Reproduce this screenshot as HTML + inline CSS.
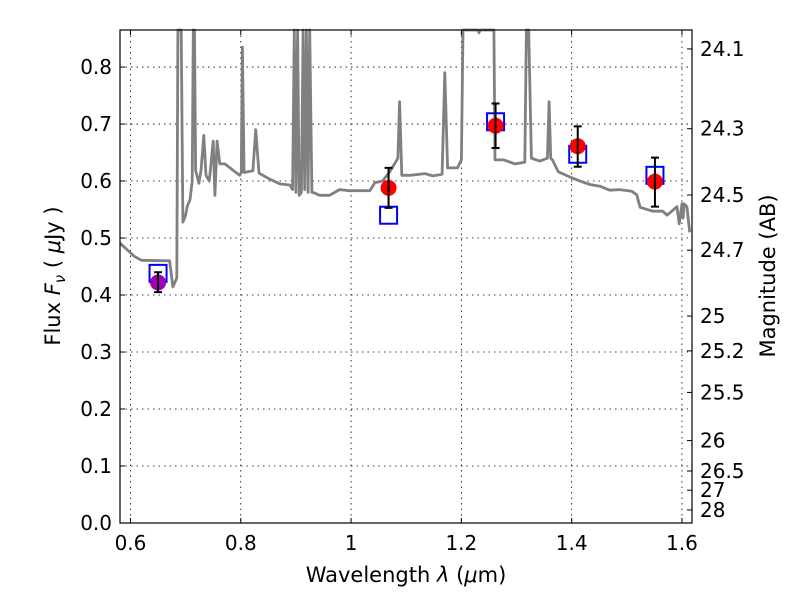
<!DOCTYPE html>
<html><head><meta charset="utf-8"><style>
body{margin:0;background:#fff}
svg text{font-family:"DejaVu Sans","Liberation Sans",sans-serif;fill:#000}
</style></head><body>
<svg id="chart" width="800" height="600" xmlns="http://www.w3.org/2000/svg">
<rect width="800" height="600" fill="#fff"/>
<g id="grid"></g>
<g id="spec"></g>
<g id="pts"></g>
<rect x="120" y="30" width="572" height="493" fill="none" stroke="#000" stroke-width="1.2"/>
<g id="axes"></g>
<text x="406" y="582" font-size="21" text-anchor="middle">Wavelength  <tspan font-style="italic">λ</tspan> (<tspan font-style="italic">μ</tspan>m)</text>
<text transform="translate(60,276) rotate(-90)" font-size="21" text-anchor="middle">Flux  <tspan font-style="italic">F</tspan><tspan font-style="italic" font-size="15" dy="5">ν</tspan><tspan dy="-5">  ( </tspan><tspan font-style="italic">μ</tspan>Jy )</text>
<text transform="translate(775,276) rotate(-90)" font-size="21" text-anchor="middle">Magnitude (AB)</text>
</svg>
<script>
const specLam=[0.581,0.607,0.62,0.671,0.677,0.684,0.686,0.692,0.695,0.7,0.703,0.708,0.712,0.714,0.716,0.718,0.724,0.728,0.733,0.737,0.743,0.75,0.753,0.757,0.762,0.771,0.798,0.801,0.803,0.806,0.822,0.827,0.833,0.853,0.871,0.889,0.894,0.897,0.9,0.903,0.906,0.91,0.913,0.916,0.919,0.922,0.925,0.929,0.931,0.943,0.961,0.979,0.997,1.034,1.043,1.057,1.07,1.085,1.088,1.092,1.107,1.134,1.148,1.165,1.17,1.175,1.193,1.2,1.203,1.206,1.23,1.232,1.234,1.256,1.259,1.261,1.277,1.297,1.315,1.318,1.322,1.327,1.342,1.356,1.359,1.362,1.365,1.376,1.397,1.415,1.433,1.451,1.469,1.487,1.509,1.518,1.524,1.547,1.565,1.573,1.591,1.595,1.6,1.602,1.604,1.609,1.614];
const specFlux=[0.491,0.468,0.461,0.46,0.414,0.43,0.9,0.9,0.528,0.54,0.556,0.567,0.6,0.9,0.9,0.619,0.596,0.62,0.68,0.61,0.6,0.67,0.575,0.67,0.63,0.63,0.61,0.615,0.835,0.615,0.618,0.69,0.614,0.603,0.595,0.593,0.585,0.9,0.58,0.9,0.575,0.58,0.9,0.585,0.9,0.58,0.9,0.58,0.58,0.575,0.575,0.585,0.583,0.583,0.597,0.6,0.616,0.64,0.739,0.61,0.61,0.613,0.609,0.612,0.79,0.623,0.623,0.637,0.9,0.9,0.9,0.86,0.9,0.9,0.9,0.637,0.637,0.63,0.633,0.9,0.9,0.64,0.635,0.64,0.739,0.64,0.637,0.616,0.607,0.6,0.594,0.591,0.584,0.585,0.582,0.576,0.554,0.547,0.547,0.54,0.555,0.525,0.56,0.535,0.56,0.555,0.51];
const ptLam=[0.65,1.068,1.262,1.411,1.551];
const ptFlux=[0.422,0.588,0.697,0.661,0.599];
const ptErrLo=[0.405,0.553,0.658,0.625,0.555];
const ptErrHi=[0.44,0.623,0.736,0.696,0.641];
const modelFlux=[0.438,0.54,0.704,0.647,0.61];
const ptColor=["#a000b0","#ff0000","#ff0000","#ff0000","#ff0000"];
const xTicks=[0.6,0.8,1.0,1.2,1.4,1.6];
const xTickLabels=["0.6","0.8","1","1.2","1.4","1.6"];
const yTicks=[0,0.1,0.2,0.3,0.4,0.5,0.6,0.7,0.8];
const magTicks=[24.1,24.3,24.5,24.7,25,25.2,25.5,26,26.5,27,28];

const X0=120,X1=692,Y0=30,Y1=523;
const xmin=0.5810,xmax=1.6182,ymin=0,ymax=0.865;
const sx=v=>X0+(v-xmin)/(xmax-xmin)*(X1-X0);
const sy=v=>Y1-(v-ymin)/(ymax-ymin)*(Y1-Y0);
const clip=v=>Math.max(Y0,Math.min(Y1,v));
const NS="http://www.w3.org/2000/svg";
function mk(tag,parent,attrs){const e=document.createElementNS(NS,tag);for(const k in attrs)e.setAttribute(k,attrs[k]);document.getElementById(parent).appendChild(e);return e;}

xTicks.forEach((t,i)=>{const x=sx(t);
 let g=mk('line','grid',{x1:x,x2:x,y1:Y0,y2:Y1,stroke:'#000','stroke-width':0.8,'stroke-dasharray':'1.5,4'});
 
 
 mk('line','axes',{x1:x,x2:x,y1:Y1,y2:Y1-5,stroke:'#000'});
 mk('line','axes',{x1:x,x2:x,y1:Y0,y2:Y0+5,stroke:'#000'});
 let l=mk('text','axes',{x:x,y:Y1+27,'font-size':20,'text-anchor':'middle'});l.textContent=xTickLabels[i];
 
 
});
yTicks.forEach(t=>{const y=sy(t);
 let g=mk('line','grid',{x1:X0,x2:X1,y1:y,y2:y,stroke:'#000','stroke-width':0.8,'stroke-dasharray':'1.5,4'});
 
 
 mk('line','axes',{x1:X0,x2:X0+5,y1:y,y2:y,stroke:'#000'});
 let l=mk('text','axes',{x:X0-8,y:y+7,'font-size':20,'text-anchor':'end'});l.textContent=t.toFixed(1);
 
 
});
magTicks.forEach(m=>{const f=Math.pow(10,(23.9-m)/2.5);const y=sy(f);
 mk('line','axes',{x1:X1,x2:X1-5,y1:y,y2:y,stroke:'#000'});
 let l=mk('text','axes',{x:X1+8,y:y+7,'font-size':20});l.textContent=String(m);
 
 
});
let d=specLam.map((l,i)=>(i?'L':'M')+sx(l).toFixed(1)+','+clip(sy(specFlux[i])).toFixed(1)).join(' ');
let p=mk('path','spec',{d:d,fill:'none',stroke:'#808080','stroke-width':2.8,'stroke-linejoin':'round'});


ptLam.forEach((l,i)=>{const x=sx(l);
 let s=mk('rect','pts',{x:x-8.5,y:sy(modelFlux[i])-8.5,width:17,height:17,fill:'none',stroke:'#0000ff','stroke-width':2});
 
 
 let c=mk('circle','pts',{cx:x,cy:sy(ptFlux[i]),r:8,fill:ptColor[i]});
 
 
 const y1=sy(ptErrHi[i]),y2=sy(ptErrLo[i]);
 let e=mk('path','pts',{d:`M${x},${y1}V${y2}M${x-4},${y1}h8M${x-4},${y2}h8`,stroke:'#000','stroke-width':2,fill:'none'});
 
 
});
</script>
</body></html>
